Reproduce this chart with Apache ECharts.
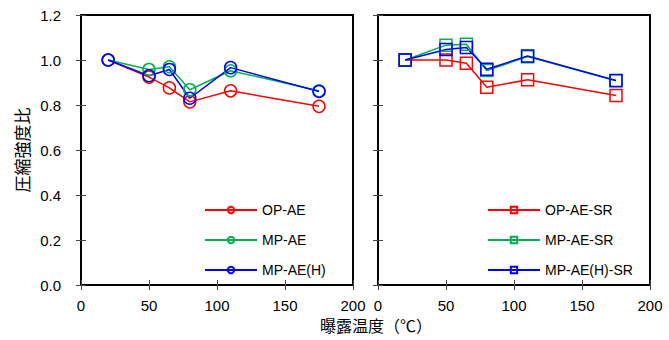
<!DOCTYPE html>
<html>
<head>
<meta charset="utf-8">
<script src="https://cdn.jsdelivr.net/npm/echarts@6/dist/echarts.min.js"></script>
<style>
  html, body { margin: 0; padding: 0; background: #fff; }
  #main { width: 669px; height: 340px; }
</style>
</head>
<body>
<div id="main"></div>
<script>
// 曝露温度 (x values)
var temps = [20, 50, 65, 80, 110, 175];

// left plot
var opAE = [1.0, 0.924, 0.876, 0.814, 0.863, 0.794];
var mpAE = [1.0, 0.958, 0.970, 0.868, 0.952, 0.863];
var mpAEH = [1.0, 0.930, 0.958, 0.830, 0.966, 0.860];

// right plot
var opAESR = [1.0, 1.0, 0.986, 0.879, 0.912, 0.842];
var mpAESR = [1.0, 1.066, 1.070, 0.953, 1.015, 0.908];
var mpAEHSR = [1.0, 1.047, 1.056, 0.959, 1.018, 0.909];

var xTicks = [0, 50, 100, 150, 200];
var yTicks = [0.0, 0.2, 0.4, 0.6, 0.8, 1.0, 1.2];

var RED = '#ff0000', GREEN = '#00b050', BLUE = '#0000ff';
var font = 'Liberation Sans, Arial, sans-serif';

function pairs(ys) {
    return temps.map(function (t, i) { return [t, ys[i]]; });
}

function mkSeries(name, ys, color, symbol, gi) {
    return {
        name: name,
        type: 'line',
        xAxisIndex: gi * 2,
        yAxisIndex: gi * 2,
        data: pairs(ys),
        symbol: symbol,
        symbolSize: 12,
        lineStyle: { color: color, width: 1.5 },
        itemStyle: { color: 'transparent', borderColor: color, borderWidth: 1.5 },
        emphasis: { disabled: true },
        animation: false
    };
}

function xAx(gi, top) {
    return {
        type: 'value', gridIndex: gi, position: top ? 'top' : 'bottom',
        min: 0, max: 200, interval: 50,
        axisLine: { show: false },
        axisTick: { show: true, inside: true, length: 5, lineStyle: { color: '#444' } },
        axisLabel: {
            show: !top, color: '#000', fontSize: 15, fontFamily: font, margin: 13,
            formatter: function (v) { return xTicks.indexOf(v) >= 0 ? String(v) : ''; }
        },
        splitLine: { show: false }
    };
}

function yAx(gi, right, labels) {
    var a = {
        type: 'value', gridIndex: gi, position: right ? 'right' : 'left',
        min: 0, max: 1.2, interval: 0.2,
        axisLine: { show: false },
        axisTick: { show: true, inside: true, length: 5, lineStyle: { color: '#444' } },
        axisLabel: {
            show: labels, color: '#000', fontSize: 15, fontFamily: font, margin: 20,
            formatter: function (v) { return v.toFixed(1); }
        },
        splitLine: { show: false }
    };
    if (labels) {
        a.name = '圧縮強度比';
        a.nameLocation = 'middle';
        a.nameRotate = 90;
        a.nameGap = 51;
        a.nameTextStyle = { color: '#000', fontSize: 17, fontFamily: 'Noto Sans CJK JP' };
    }
    return a;
}

var legendText = { color: '#000', fontSize: 14, fontFamily: font };

var option = {
    backgroundColor: '#fff',
    title: {
        text: '曝露温度（℃）', left: 371, top: 312, textAlign: 'center',
        textStyle: { color: '#000', fontSize: 16, fontWeight: 'normal', fontFamily: 'Noto Sans CJK JP' }
    },
    grid: [
        { left: 81, top: 15, width: 272, height: 270, show: true, borderColor: '#000', borderWidth: 2 },
        { left: 378, top: 15, width: 272, height: 270, show: true, borderColor: '#000', borderWidth: 2 }
    ],
    xAxis: [xAx(0, false), xAx(0, true), xAx(1, false), xAx(1, true)],
    yAxis: [yAx(0, false, true), yAx(0, true, false), yAx(1, false, false), yAx(1, true, false)],
    legend: [
        {
            data: ['OP-AE', 'MP-AE', 'MP-AE(H)'],
            orient: 'vertical', left: 199, top: 198,
            itemWidth: 52, itemHeight: 8, itemGap: 16,
            textStyle: legendText
        },
        {
            data: ['OP-AE-SR', 'MP-AE-SR', 'MP-AE(H)-SR'],
            orient: 'vertical', left: 482, top: 198,
            itemWidth: 52, itemHeight: 8, itemGap: 16,
            textStyle: legendText
        }
    ],
    series: [
        mkSeries('OP-AE', opAE, RED, 'circle', 0),
        mkSeries('MP-AE', mpAE, GREEN, 'circle', 0),
        mkSeries('MP-AE(H)', mpAEH, BLUE, 'circle', 0),
        mkSeries('OP-AE-SR', opAESR, RED, 'rect', 1),
        mkSeries('MP-AE-SR', mpAESR, GREEN, 'rect', 1),
        mkSeries('MP-AE(H)-SR', mpAEHSR, BLUE, 'rect', 1)
    ]
};

var myChart = echarts.init(document.getElementById('main'), null, { renderer: 'svg' });
myChart.setOption(option);
</script>
</body>
</html>
